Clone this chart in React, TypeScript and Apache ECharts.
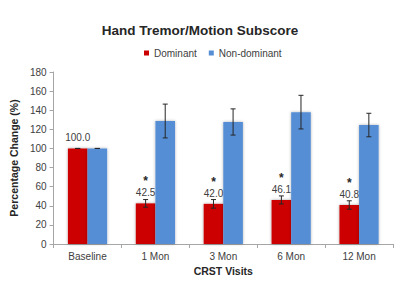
import React, { useEffect, useRef } from "react";
import * as echarts from "echarts";

const categories = ["Baseline", "1 Mon", "3 Mon", "6 Mon", "12 Mon"];
const dominant = [100.0, 42.5, 42.0, 46.1, 40.8];
const dominantErr = [0, 4.0, 4.5, 4.2, 4.4];
const nonDominant = [100.0, 128.7, 127.7, 138.0, 124.5];
const nonDominantErr = [0, 17.7, 13.7, 17.6, 12.3];
const significant = [false, true, true, true, true];

const BAR_W = 19.6;

function errorSeries(values: number[], errs: number[], offset: number) {
  return {
    type: "custom",
    silent: true,
    z: 10,
    data: values.map((v, i) => [i, v, errs[i]]),
    renderItem: (params: any, api: any) => {
      const i = api.value(0);
      const v = api.value(1);
      const e = api.value(2);
      const top = api.coord([i, v + e]);
      const bot = api.coord([i, v - e]);
      const x = top[0] + offset;
      const cap = 2.5;
      const style = { stroke: "#262626", lineWidth: 1 };
      return {
        type: "group",
        children: [
          { type: "line", shape: { x1: x, y1: top[1], x2: x, y2: bot[1] }, style },
          { type: "line", shape: { x1: x - cap, y1: top[1], x2: x + cap, y2: top[1] }, style },
          { type: "line", shape: { x1: x - cap, y1: bot[1], x2: x + cap, y2: bot[1] }, style },
        ],
      };
    },
  };
}

export default function App() {
  const ref = useRef<HTMLDivElement>(null);
  useEffect(() => {
    document.body.style.margin = "0";
    const chart = echarts.init(ref.current!, undefined, { renderer: "svg" });
    chart.setOption({
      animation: false,
      textStyle: { fontFamily: "Liberation Sans, Arial, sans-serif" },
      title: {
        text: "Hand Tremor/Motion Subscore",
        left: "center",
        top: 18,
        textStyle: { fontSize: 13.5, fontWeight: "bold", color: "#262626" },
      },
      legend: {
        top: 43,
        left: 139,
        itemWidth: 5,
        itemHeight: 5,
        itemGap: 12,
        icon: "rect",
        textStyle: { fontSize: 10, color: "#404040" },
        data: ["Dominant", "Non-dominant"],
      },
      grid: { left: 47, right: 7, top: 72, bottom: 56, containLabel: false },
      xAxis: {
        type: "category",
        data: categories,
        name: "CRST Visits",
        nameLocation: "middle",
        nameGap: 20,
        nameTextStyle: { fontSize: 10.5, fontWeight: "bold", color: "#262626" },
        axisLine: { lineStyle: { color: "#a6a6a6" } },
        axisTick: { show: true, length: 4, lineStyle: { color: "#a6a6a6" } },
        axisLabel: { fontSize: 10, color: "#404040", margin: 7, interval: 0 },
      },
      yAxis: {
        type: "value",
        min: 0,
        max: 180,
        interval: 20,
        name: "Percentage Change (%)",
        nameLocation: "middle",
        nameGap: 29,
        nameTextStyle: { fontSize: 10.5, fontWeight: "bold", color: "#262626" },
        axisLine: { show: true, lineStyle: { color: "#a6a6a6" } },
        axisTick: { show: true, length: 4, lineStyle: { color: "#a6a6a6" } },
        axisLabel: { fontSize: 10, color: "#404040", margin: 7 },
        splitLine: { show: false },
      },
      series: [
        {
          name: "Dominant",
          type: "bar",
          data: dominant,
          barWidth: BAR_W,
          barGap: "0%",
          itemStyle: {
            color: "#cc0000",
            shadowBlur: 3,
            shadowColor: "rgba(0,0,0,0.35)",
          },
          label: {
            show: true,
            position: "top",
            distance: 5,
            formatter: (p: any) =>
              significant[p.dataIndex]
                ? `{s|*}\n{v|${dominant[p.dataIndex].toFixed(1)}}`
                : `{v|${dominant[p.dataIndex].toFixed(1)}}`,
            rich: {
              s: { fontSize: 12, fontWeight: "bold", color: "#262626", lineHeight: 12, align: "center" },
              v: { fontSize: 10, color: "#404040", lineHeight: 11, align: "center" },
            },
          },
        },
        {
          name: "Non-dominant",
          type: "bar",
          data: nonDominant,
          barWidth: BAR_W,
          barGap: "0%",
          itemStyle: {
            color: "#558ed5",
            shadowBlur: 3,
            shadowColor: "rgba(0,0,0,0.3)",
          },
        },
        errorSeries(dominant, dominantErr, -BAR_W / 2),
        errorSeries(nonDominant, nonDominantErr, BAR_W / 2),
      ],
    });
    return () => chart.dispose();
  }, []);
  return <div ref={ref} style={{ width: 400, height: 300 }} />;
}
